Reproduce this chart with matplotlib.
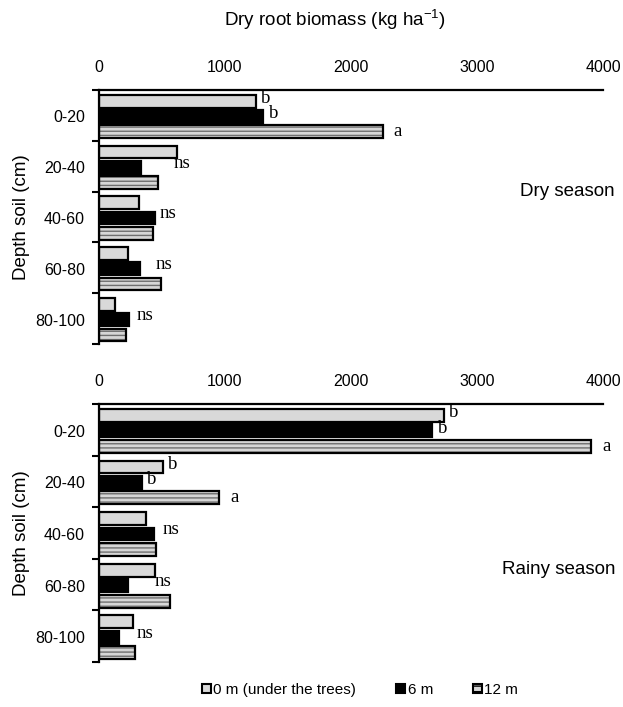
import matplotlib
matplotlib.use("Agg")
import matplotlib.pyplot as plt
from matplotlib.patches import Patch
import numpy as np

depths = ["0-20", "20-40", "40-60", "60-80", "80-100"]
series_names = ["0 m (under the trees)", "6 m", "12 m"]

dry_0m = [1243, 620, 316, 231, 130]
dry_6m = [1303, 332, 443, 323, 237]
dry_12m = [2251, 471, 427, 490, 212]

rainy_0m = [2735, 506, 370, 443, 269]
rainy_6m = [2644, 338, 436, 228, 155]
rainy_12m = [3905, 955, 449, 560, 288]

dry_letters = [["b", "b", "a"], None, None, None, None]
rainy_letters = [["b", "b", "a"], ["b", "b", "a"], None, None, None]
dry_ns_x = [None, 591, 480, 449, 300]
rainy_ns_x = [None, None, 506, 443, 300]

xticks = [0, 1000, 2000, 3000, 4000]

SANS = "Liberation Sans"
SERIF = "Liberation Serif"

fig = plt.figure(figsize=(6.23, 7.07), dpi=100)

left, width = 99 / 623, (603 - 99) / 623
ax_dry = fig.add_axes([left, 1 - 344 / 707, width, (344 - 90) / 707])
ax_rain = fig.add_axes([left, 1 - 662 / 707, width, (662 - 404) / 707])

bh = 0.25
offs = [-0.3, 0.0, 0.3]


def draw(ax, v0, v6, v12, letters, ns_x, season, season_y):
    n = len(depths)
    y = np.arange(n) + 0.52
    ax.barh(y + offs[0], v0, height=bh, color="#d9d9d9", edgecolor="black", linewidth=1.6)
    ax.barh(y + offs[1], v6, height=bh, color="black", edgecolor="black", linewidth=1.6)
    ax.barh(y + offs[2], v12, height=bh, color="#d6d6d6", edgecolor="#6f6f6f",
            linewidth=0, hatch="----")
    ax.barh(y + offs[2], v12, height=bh, fill=False, edgecolor="black", linewidth=1.6)
    ax.set_xlim(0, 4000)
    ax.set_ylim(n, 0)
    ax.xaxis.tick_top()
    ax.set_xticks(xticks)
    ax.set_xticklabels([str(t) for t in xticks], fontfamily=SANS, fontsize=11.5)
    ax.tick_params(axis="x", which="major", length=0, pad=11)
    ax.set_xticks([0, 4000], minor=True)
    ax.tick_params(axis="x", which="minor", length=5, width=1.5, direction="out", top=True, bottom=False)
    ax.set_yticks(y)
    ax.set_yticklabels(depths, fontfamily=SANS, fontsize=11.5)
    ax.tick_params(axis="y", which="major", length=0, pad=10)
    ax.set_yticks(np.arange(n + 1), minor=True)
    ax.tick_params(axis="y", which="minor", length=5, width=1.5, direction="out")
    for s in ["right", "bottom"]:
        ax.spines[s].set_visible(False)
    for s in ["left", "top"]:
        ax.spines[s].set_linewidth(1.6)
    ax.set_ylabel("Depth soil (cm)", fontfamily=SANS, fontsize=13.5, labelpad=4)
    vals = [v0, v6, v12]
    for i in range(n):
        if letters[i] is not None:
            for k in range(3):
                ax.annotate(letters[i][k], (vals[k][i], y[i] + offs[k]),
                            xytext=(4 if k < 2 else 8, 2 if k < 2 else 0),
                            textcoords="offset points", va="center", ha="left",
                            fontfamily=SERIF, fontsize=13.5)
        if ns_x[i] is not None:
            ax.text(ns_x[i], y[i] - 0.08, "ns", va="center", ha="left",
                    fontfamily=SERIF, fontsize=13.5)
    ax.text(1.024, season_y, season,
            transform=ax.transAxes, ha="right", va="center",
            fontfamily=SANS, fontsize=13.5)


draw(ax_dry, dry_0m, dry_6m, dry_12m, dry_letters, dry_ns_x, "Dry season", 0.6)
draw(ax_rain, rainy_0m, rainy_6m, rainy_12m, rainy_letters, rainy_ns_x, "Rainy season", 0.36)

fig.text(335 / 623, 1 - 20 / 707, "Dry root biomass (kg ha$^{\\mathregular{-1}}$)",
         ha="center", va="center", fontfamily=SANS, fontsize=13.5)

handles = [
    Patch(facecolor="#d9d9d9", edgecolor="black", linewidth=1.5),
    Patch(facecolor="black", edgecolor="black", linewidth=1.5),
    Patch(facecolor="#d6d6d6", edgecolor="black", linewidth=1.5, hatch="---"),
]
fig.legend(handles, series_names, loc="center", bbox_to_anchor=(360 / 623, 1 - 690 / 707),
           ncol=3, frameon=False, prop={"family": SANS, "size": 11},
           handlelength=0.6, handleheight=0.6, handletextpad=0.15, columnspacing=2.6)

fig.savefig("out.png", dpi=100)
